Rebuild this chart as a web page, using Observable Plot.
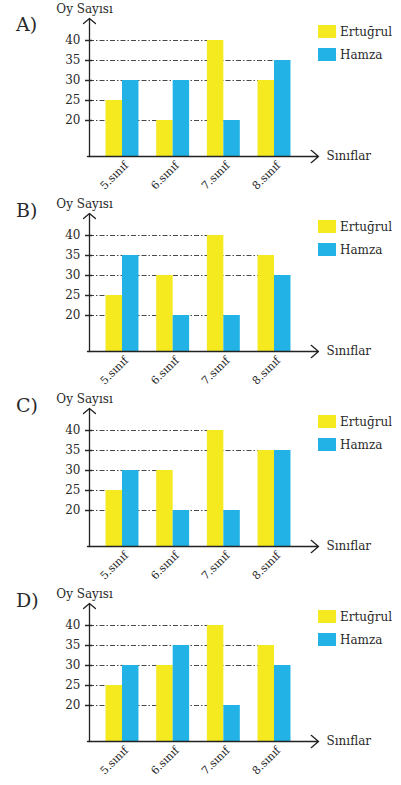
<!DOCTYPE html>
<html><head><meta charset="utf-8">
<script src="https://cdn.jsdelivr.net/npm/d3@7"></script>
<script src="https://cdn.jsdelivr.net/npm/@observablehq/plot@0.6"></script>
<style>
body{margin:0;background:#fff;font-family:"DejaVu Serif",serif;color:#2a2a2a;}
.panel{position:relative;width:401px;height:195px;}
.panel svg{display:block;}
.letter{position:absolute;left:16px;font-size:19px;line-height:19px;}
.legend{position:absolute;left:318px;top:25px;font-size:12px;}
.legend .item{display:flex;align-items:center;height:13px;margin-bottom:10px;}
.legend .sw{width:18px;height:13px;margin-right:4px;}
</style></head><body><div id="chart"></div>
<script>
const classes = ["5.sınıf","6.sınıf","7.sınıf","8.sınıf"];
const panelLabels = ["A)","B)","C)","D)"];
const seriesNames = ["Ertuğrul","Hamza"];
const seriesColors = ["#f5ea1f","#22b2e5"];
const ertugrulA = [25,20,40,30];
const hamzaA    = [30,30,20,35];
const ertugrulB = [25,30,40,35];
const hamzaB    = [35,20,20,30];
const ertugrulC = [25,30,40,35];
const hamzaC    = [30,20,20,35];
const ertugrulD = [25,30,40,35];
const hamzaD    = [30,35,20,30];
const yTicks = [20,25,30,35,40];
const yLabel = "Oy Sayısı";
const xLabel = "Sınıflar";

const panels = [[ertugrulA,hamzaA],[ertugrulB,hamzaB],[ertugrulC,hamzaC],[ertugrulD,hamzaD]];
const xMin = -0.651, xMax = 3.868, yMin = 11, yMax = 45.5;
const bw = 0.325;

function makePanel(er, ha){
  const rows = [];
  classes.forEach((c,i)=>{
    rows.push({cls:c, series:seriesNames[0], value:er[i], x1:i-bw, x2:i});
    rows.push({cls:c, series:seriesNames[1], value:ha[i], x1:i, x2:i+bw});
  });
  const grid = yTicks.map(v=>{
    const hits = rows.filter(r=>r.value===v);
    const xe = hits.length ? d3.max(hits, r=>r.x1)+0.05 : xMin;
    return {v, xe};
  });
  return Plot.plot({
    width:401, height:195,
    marginLeft:89, marginRight:83, marginTop:18, marginBottom:39,
    style:{fontFamily:"DejaVu Serif", fontSize:"12px", color:"#2a2a2a", background:"#fff"},
    x:{domain:[xMin,xMax], axis:null},
    y:{domain:[yMin,yMax], axis:null},
    color:{domain:seriesNames, range:seriesColors},
    marks:[
      Plot.ruleY(grid, {y:"v", x1:xMin, x2:"xe", stroke:"#333", strokeWidth:0.9, strokeDasharray:"5,2,1.5,2"}),
      Plot.rect(rows, {x1:"x1", x2:"x2", y1:yMin, y2:"value", fill:"series"}),
      Plot.axisY({ticks:yTicks, tickSize:7, dx:3, tickPadding:5, label:null, strokeWidth:1.5, fontSize:12}),
      Plot.arrow([{}], {x1:xMin, y1:yMin, x2:xMin, y2:yMax, stroke:"#222", strokeWidth:1.3, headAngle:100, headLength:9}),
      Plot.arrow([{}], {x1:xMin-0.04, y1:yMin, x2:xMax, y2:yMin, stroke:"#222", strokeWidth:1.3, headAngle:80, headLength:11}),
      Plot.text(classes.map((c,i)=>({c,i})), {x:"i", y:yMin, text:"c", rotate:-45, textAnchor:"end", dx:4, dy:7, fontSize:11}),
      Plot.text([{t:yLabel}], {x:xMin, y:yMax, text:"t", dx:-5, dy:-9, fontSize:12}),
      Plot.text([{t:xLabel}], {x:xMax, y:yMin, text:"t", dx:8, textAnchor:"start", fontSize:12})
    ]
  });
}

const root = document.getElementById("chart");
panels.forEach(([er,ha],k)=>{
  const div = document.createElement("div");
  div.className = "panel";
  div.appendChild(makePanel(er,ha));
  const lt = document.createElement("div");
  lt.className = "letter";
  lt.textContent = panelLabels[k];
  lt.style.top = (k===0 ? 15 : 6) + "px";
  div.appendChild(lt);
  const lg = document.createElement("div");
  lg.className = "legend";
  seriesNames.forEach((s,j)=>{
    const it = document.createElement("div");
    it.className = "item";
    const sw = document.createElement("span");
    sw.className = "sw";
    sw.style.background = seriesColors[j];
    it.appendChild(sw);
    it.appendChild(document.createTextNode(s));
    lg.appendChild(it);
  });
  div.appendChild(lg);
  root.appendChild(div);
});
</script>
</body></html>
